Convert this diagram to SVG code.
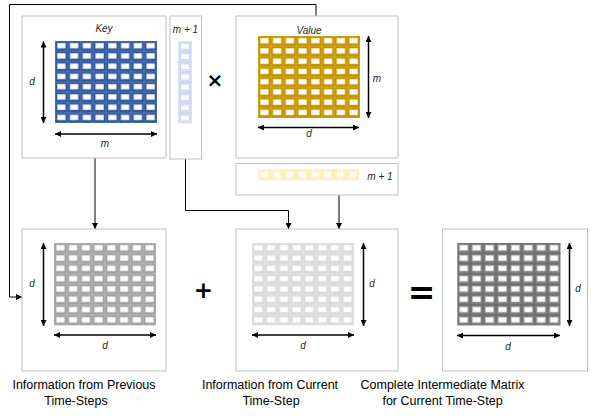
<svg xmlns="http://www.w3.org/2000/svg" width="608" height="416" viewBox="0 0 608 416">
<style>
.box{fill:#fff;stroke:#bfbfbf;stroke-width:1}
.lbl{font-family:"Liberation Sans",Arial,sans-serif;font-style:italic;font-size:10px;fill:#262626}
.cap{font-family:"Liberation Sans",Arial,sans-serif;font-size:12.5px;fill:#000;text-anchor:middle}
.dim{stroke:#000;stroke-width:1.5;fill:none;marker-start:url(#dimA);marker-end:url(#dimA)}
.con{stroke:#000;stroke-width:1;fill:none;marker-end:url(#conA)}
.op{font-family:"DejaVu Sans",sans-serif;font-weight:bold;fill:#000;text-anchor:middle}
</style>
<defs>
<marker id="dimA" viewBox="0 0 8 8" refX="8" refY="4" markerWidth="4" markerHeight="4" orient="auto-start-reverse"><path d="M0,0 L8,4 L0,8 z" fill="#000"/></marker>
<marker id="conA" viewBox="0 0 8 8" refX="8" refY="4" markerWidth="6" markerHeight="6" markerUnits="userSpaceOnUse" orient="auto"><path d="M0,0 L8,4 L0,8 z" fill="#000"/></marker>
<pattern id="pKey" patternUnits="userSpaceOnUse" width="12.75" height="10.25">
<rect width="12.75" height="10.25" fill="#2f5597" stroke="#5b80c4" stroke-width="0.8"/>
<rect x="2.4" y="2.1" width="8" height="5.2" fill="#fff" stroke="#c9d6ee" stroke-width="0.5"/>
</pattern>
<pattern id="pVal" patternUnits="userSpaceOnUse" width="12.75" height="10.25">
<rect width="12.75" height="10.25" fill="#bf9000" stroke="#e0b020" stroke-width="0.8"/>
<rect x="2.4" y="2.1" width="8" height="5.2" fill="#fff" stroke="#fbe6a8" stroke-width="0.5"/>
</pattern>
<pattern id="pCol" patternUnits="userSpaceOnUse" width="13.4" height="10.25">
<rect width="13.4" height="10.25" fill="#dae3f3" stroke="#b4c7e7" stroke-width="0.8"/>
<rect x="2.5" y="2" width="8.4" height="6" fill="#fff" stroke="#b4c7e7" stroke-width="0.6"/>
</pattern>
<pattern id="pRow" patternUnits="userSpaceOnUse" width="12.6" height="11">
<rect width="12.6" height="11" fill="#fff2cc" stroke="#ffe699" stroke-width="0.8"/>
<rect x="2.4" y="2.3" width="7.8" height="6" fill="#fff" stroke="#ffe699" stroke-width="0.6"/>
</pattern>
<pattern id="pPrev" patternUnits="userSpaceOnUse" width="12.75" height="10.3">
<rect width="12.75" height="10.3" fill="#a0a0a0" stroke="#bdbdbd" stroke-width="0.8"/>
<rect x="2.4" y="2.1" width="8" height="5.3" fill="#fff" stroke="#e0e0e0" stroke-width="0.5"/>
</pattern>
<pattern id="pCur" patternUnits="userSpaceOnUse" width="12.75" height="10.3">
<rect width="12.75" height="10.3" fill="#d9d9d9" stroke="#e6e6e6" stroke-width="0.8"/>
<rect x="2.4" y="2.1" width="8" height="5.3" fill="#fff" stroke="#ececec" stroke-width="0.5"/>
</pattern>
<pattern id="pFin" patternUnits="userSpaceOnUse" width="12.9" height="10.3">
<rect width="12.9" height="10.3" fill="#7f7f7f" stroke="#5e5e5e" stroke-width="0.8"/>
<rect x="2.4" y="2.1" width="8.1" height="5.3" fill="#fff" stroke="#c8c8c8" stroke-width="0.5"/>
</pattern>
</defs>

<g id="connectors">
<path class="con" d="M316,16 V4.5 H9.5 V297 H22"/>
<path class="con" d="M95,158 V229"/>
<path class="con" d="M185.5,159 V210.5 H288.5 V229"/>
<path class="con" d="M339,195 V229"/>
</g>

<g id="key">
<rect class="box" x="22" y="16" width="144" height="142"/>
<text class="lbl" x="104" y="32" text-anchor="middle">Key</text>
<g transform="translate(55,41)"><rect width="102" height="82" fill="url(#pKey)"/></g>
<line class="dim" x1="43.5" y1="41.5" x2="43.5" y2="123"/>
<text class="lbl" x="32" y="85" text-anchor="middle">d</text>
<line class="dim" x1="55" y1="134" x2="157" y2="134"/>
<text class="lbl" x="105" y="146.5" text-anchor="middle">m</text>
</g>

<g id="query-col">
<rect class="box" x="170" y="16" width="31.5" height="143"/>
<text class="lbl" x="185.5" y="32.5" text-anchor="middle">m + 1</text>
<g transform="translate(178.3,41.3)"><rect width="13.4" height="82" fill="url(#pCol)"/></g>
</g>

<text class="op" x="215" y="87" font-size="20">×</text>

<g id="value">
<rect class="box" x="236" y="16" width="162" height="142"/>
<text class="lbl" x="309" y="34" text-anchor="middle">Value</text>
<g transform="translate(258,36)"><rect width="102" height="82" fill="url(#pVal)"/></g>
<line class="dim" x1="368.5" y1="36" x2="368.5" y2="118"/>
<text class="lbl" x="377" y="81.5" text-anchor="middle">m</text>
<line class="dim" x1="258" y1="127.5" x2="359" y2="127.5"/>
<text class="lbl" x="309" y="137" text-anchor="middle">d</text>
</g>

<g id="query-row">
<rect class="box" x="236" y="163.5" width="162" height="31.5"/>
<g transform="translate(258.3,169.3)"><rect width="100.8" height="11" fill="url(#pRow)"/></g>
<text class="lbl" x="380" y="179.5" text-anchor="middle">m + 1</text>
</g>

<g id="previous">
<rect class="box" x="22" y="229" width="144" height="142"/>
<g transform="translate(54,243)"><rect width="102" height="82.4" fill="url(#pPrev)"/></g>
<line class="dim" x1="43.5" y1="243" x2="43.5" y2="326"/>
<text class="lbl" x="32" y="287" text-anchor="middle">d</text>
<line class="dim" x1="54" y1="335" x2="156" y2="335"/>
<text class="lbl" x="105" y="348.5" text-anchor="middle">d</text>
<text class="cap" x="84" y="388.5">Information from Previous</text>
<text class="cap" x="76" y="405">Time-Steps</text>
</g>

<text class="op" x="203.5" y="298" font-size="23">+</text>

<g id="current">
<rect class="box" x="236" y="229" width="162" height="142"/>
<g transform="translate(252,243)"><rect width="102" height="82.4" fill="url(#pCur)"/></g>
<line class="dim" x1="363.5" y1="243" x2="363.5" y2="326"/>
<text class="lbl" x="372" y="287" text-anchor="middle">d</text>
<line class="dim" x1="252" y1="335" x2="354" y2="335"/>
<text class="lbl" x="303" y="348.5" text-anchor="middle">d</text>
<text class="cap" x="270" y="388.5">Information from Current</text>
<text class="cap" x="271" y="405">Time-Step</text>
</g>

<text class="op" x="421.5" y="304" font-size="33">=</text>

<g id="complete">
<rect class="box" x="442.5" y="229" width="145" height="142"/>
<g transform="translate(457.3,243)"><rect width="103.2" height="82.4" fill="url(#pFin)"/></g>
<line class="dim" x1="569.5" y1="243" x2="569.5" y2="326"/>
<text class="lbl" x="578" y="292" text-anchor="middle">d</text>
<line class="dim" x1="457" y1="335.5" x2="560" y2="335.5"/>
<text class="lbl" x="508" y="349.5" text-anchor="middle">d</text>
<text class="cap" x="442.5" y="388.5">Complete Intermediate Matrix</text>
<text class="cap" x="442.5" y="405">for Current Time-Step</text>
</g>
</svg>
